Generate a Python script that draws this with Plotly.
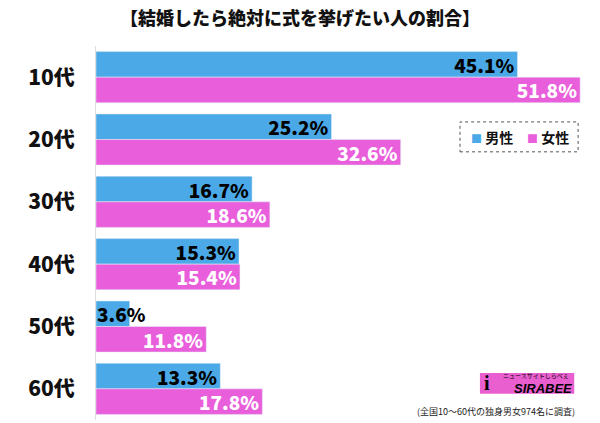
import plotly.graph_objects as go

ages = ["10代", "20代", "30代", "40代", "50代", "60代"]
male = [45.1, 25.2, 16.7, 15.3, 3.6, 13.3]
female = [51.8, 32.6, 18.6, 15.4, 11.8, 17.8]

blue = "#4aa9e6"
pink = "#e95fdb"
font = "Noto Sans CJK JP"

def labels(vals):
    return [f"{v:.1f}%" for v in vals]

# the 50代 male bar is too short for its label, so that one goes in an annotation
male_pos = ["inside" if v > 8 else "none" for v in male]

fig = go.Figure()
fig.add_trace(go.Bar(y=ages, x=male, orientation="h", name="男性",
                     marker_color=blue, text=labels(male), textposition=male_pos,
                     insidetextanchor="end", constraintext="none",
                     textfont=dict(family=font, size=19, color="black", weight=900)))
fig.add_trace(go.Bar(y=ages, x=female, orientation="h", name="女性",
                     marker_color=pink, text=labels(female), textposition="inside",
                     insidetextanchor="end", constraintext="none",
                     textfont=dict(family=font, size=19, color="white", weight=900)))

for a, v in zip(ages, male):
    if v <= 8:
        fig.add_annotation(x=0, y=a, text=f"{v:.1f}%", showarrow=False, xanchor="left",
                           xshift=-1, yshift=13,
                           font=dict(family=font, size=19, color="black", weight=900))

fig.update_layout(
    width=600, height=423,
    margin=dict(l=96, r=18, t=46, b=3, autoexpand=False),
    plot_bgcolor="white", paper_bgcolor="white",
    barmode="group", bargap=0.18, bargroupgap=0,
    showlegend=False,
    title=dict(text="【結婚したら絶対に式を挙げたい人の割合】", x=0.5, xanchor="center",
               y=0.955, yanchor="middle",
               font=dict(family=font, size=18, color="#111", weight=900)),
    xaxis=dict(range=[0, 52], visible=False),
    yaxis=dict(autorange="reversed", showline=True, linecolor="#dddddd", linewidth=1,
               ticks="", ticklabelstandoff=16, automargin=False,
               tickfont=dict(family=font, size=21, color="#111", weight=900)),
)

# legend drawn by hand so it can sit as tight as the original, in a dotted box
fig.add_shape(type="rect", xref="paper", yref="paper", x0=0.749, x1=0.992, y0=0.717, y1=0.797,
              line=dict(color="#555", width=1, dash="dot"), fillcolor="rgba(0,0,0,0)")
for name, col, xc in [("男性", blue, 0.815), ("女性", pink, 0.931)]:
    fig.add_annotation(xref="paper", yref="paper", x=xc, y=0.757, xanchor="center", yanchor="middle",
                       text=f"<span style='color:{col};font-size:11px'>■</span> {name}",
                       showarrow=False,
                       font=dict(family=font, size=14, color="#111", weight="bold"))

# logo
fig.add_shape(type="rect", xref="paper", yref="paper", x0=0.79, x1=0.984, y0=0.07, y1=0.126,
              line=dict(width=0), fillcolor="#e95fcf")
fig.add_annotation(xref="paper", yref="paper", x=0.982, y=0.084, xanchor="right", yanchor="middle",
                   text="<i>SIRABEE</i>", showarrow=False, borderpad=0,
                   font=dict(family="Liberation Sans", size=13, color="black", weight="bold"))
fig.add_annotation(xref="paper", yref="paper", x=0.975, y=0.118, xanchor="right", yanchor="middle",
                   text="ニュースサイトしらべぇ", showarrow=False, borderpad=0,
                   font=dict(family=font, size=6, color="black"))
fig.add_annotation(xref="paper", yref="paper", x=0.797, y=0.098, xanchor="left", yanchor="middle",
                   text="<b>i</b>", showarrow=False, borderpad=0,
                   font=dict(family="Liberation Serif", size=20, color="black"))

fig.add_annotation(xref="paper", yref="paper", x=0.99, y=0.024, xanchor="right", yanchor="middle",
                   text="(全国10〜60代の独身男女974名に調査)", showarrow=False,
                   font=dict(family=font, size=9, color="#222"))

fig.write_html("out.html", config={"displayModeBar": False},
               post_script="document.body.style.margin='0';")
